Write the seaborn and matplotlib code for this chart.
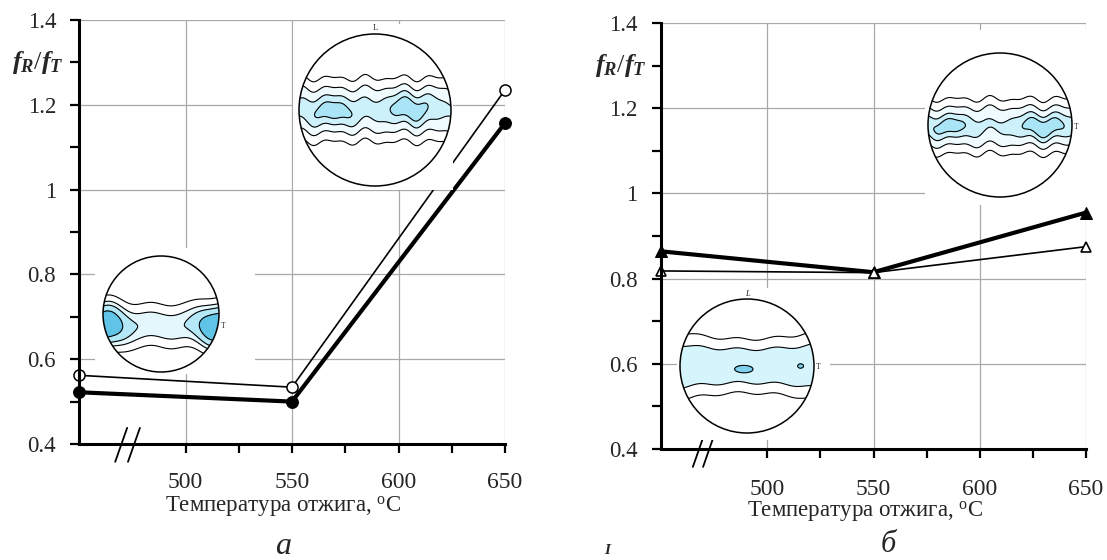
import numpy as np
import pandas as pd
import matplotlib
matplotlib.use("Agg")
import matplotlib.pyplot as plt
import seaborn as sns
from matplotlib.patches import Circle
from matplotlib.ticker import FixedLocator, FixedFormatter

# ---------------- data ----------------
temps = [450, 550, 650]
a_open = [0.562, 0.534, 1.235]     # panel а, thin line, open circles
a_filled = [0.522, 0.500, 1.157]   # panel а, thick line, filled circles
b_filled = [0.864, 0.815, 0.955]   # panel б, thick line, filled triangles
b_open = [0.818, 0.814, 0.875]     # panel б, thin line, open triangles

xticks_major = [500, 550, 600, 650]
xticks_minor = [525, 575, 625]
yticks_major = [0.4, 0.6, 0.8, 1.0, 1.2, 1.4]
ytick_labels = ["0.4", "0.6", "0.8", "1", "1.2", "1.4"]
yticks_minor = [0.5, 0.7, 0.9, 1.1, 1.3]
xlabel_text = "Температура отжига, $^{\\rm o}$C"
ylabel_text = "$f_R/f_T$"
panel_letters = ["а", "б"]

# ---------------- style ----------------
sns.set_style("white")
plt.rcParams['font.family'] = ['Liberation Serif', 'DejaVu Serif']
plt.rcParams['mathtext.fontset'] = 'custom'
plt.rcParams['mathtext.rm'] = 'Liberation Serif'
plt.rcParams['mathtext.it'] = 'Liberation Serif:italic:bold'
plt.rcParams['mathtext.bf'] = 'Liberation Serif:bold'

W, H = 1107, 560
fig = plt.figure(figsize=(W / 100, H / 100), dpi=100)
fig.patch.set_facecolor('white')


def px_axes(x0, y0, x1, y1):
    return fig.add_axes([x0 / W, 1 - y1 / H, (x1 - x0) / W, (y1 - y0) / H])


def style_axes(ax, xpad, ypad):
    ax.set_xlim(450, 650)
    ax.set_ylim(0.4, 1.4)
    ax.xaxis.set_major_locator(FixedLocator(xticks_major))
    ax.xaxis.set_minor_locator(FixedLocator(xticks_minor))
    ax.yaxis.set_major_locator(FixedLocator(yticks_major))
    ax.yaxis.set_major_formatter(FixedFormatter(ytick_labels))
    ax.yaxis.set_minor_locator(FixedLocator(yticks_minor))
    ax.grid(True, which='major', color='#a8a8a8', lw=0.9)
    ax.set_axisbelow(True)
    for s in ['top', 'right']:
        ax.spines[s].set_visible(False)
    for s in ['left', 'bottom']:
        ax.spines[s].set_linewidth(2.2)
        ax.spines[s].set_color('black')
        ax.spines[s].set_zorder(5)
    ax.tick_params(axis='both', which='both', direction='out', length=6.5,
                   width=1.6, color='black', left=True, bottom=True)
    ax.tick_params(axis='x', which='major', labelsize=17, pad=xpad)
    ax.tick_params(axis='y', which='major', labelsize=16.5, pad=ypad)
    ax.set_xlabel("")
    ax.set_ylabel("")


def break_marks(ax, xs):
    for x in xs:
        ax.plot([x, x + 0.028], [-0.042, 0.038], color='black', lw=1.3,
                transform=ax.transAxes, clip_on=False, zorder=6)


# ---------------- panel а ----------------
axA = px_axes(79, 20, 505, 444)
dfa = pd.DataFrame({"T": temps, "open": a_open, "filled": a_filled})
sns.lineplot(data=dfa, x="T", y="open", ax=axA, color='black', lw=1.2,
             marker='o', markersize=8, markerfacecolor='white',
             markeredgecolor='black', markeredgewidth=1.1, clip_on=False, zorder=4)
sns.lineplot(data=dfa, x="T", y="filled", ax=axA, color='black', lw=3.0,
             marker='o', markersize=8.5, markerfacecolor='black',
             markeredgecolor='black', clip_on=False, zorder=4)
style_axes(axA, xpad=14, ypad=10)
break_marks(axA, [0.085, 0.115])
axA.text(-0.037, 1.3, ylabel_text, transform=axA.get_yaxis_transform(),
         ha='right', va='center', fontsize=19)
axA.text((283 - 79) / 426, (444 - 507) / 424, xlabel_text, transform=axA.transAxes,
         ha='center', va='center', fontsize=16.5)
fig.text(283 / W, 1 - 547 / H, panel_letters[0], fontsize=23, style='italic',
         ha='center', va='center')

# ---------------- panel б ----------------
axB = px_axes(661, 23, 1086, 449)
dfb = pd.DataFrame({"T": temps, "open": b_open, "filled": b_filled})
sns.lineplot(data=dfb, x="T", y="filled", ax=axB, color='black', lw=3.0,
             marker='^', markersize=8, markerfacecolor='black',
             markeredgecolor='black', clip_on=False, zorder=4)
sns.lineplot(data=dfb, x="T", y="open", ax=axB, color='black', lw=1.2,
             marker='^', markersize=7, markerfacecolor='white',
             markeredgecolor='black', markeredgewidth=1.2, clip_on=False, zorder=4)
style_axes(axB, xpad=15, ypad=10.5)
break_marks(axB, [0.075, 0.099])
axB.text(-0.033, 1.3, ylabel_text, transform=axB.get_yaxis_transform(),
         ha='right', va='center', fontsize=19)
axB.text((865 - 661) / 425, (449 - 511) / 426, xlabel_text, transform=axB.transAxes,
         ha='center', va='center', fontsize=16.5)
fig.text(888 / W, 1 - 545 / H, panel_letters[1], fontsize=22, style='italic',
         ha='center', va='center')

# small bold glyph near the bottom edge
fig.text(607 / W, 1 - 550 / H, "I", fontsize=11, fontweight='bold', style='italic',
         ha='center', va='center')

# ---------------- pole-figure insets (illustrations) ----------------
uu, vv = np.meshgrid(np.linspace(-1.02, 1.02, 400), np.linspace(-1.02, 1.02, 400))


def pole_inset(box, center, r, field, fill_levels, fill_colors, line_levels,
               tpos=None, lpos=None):
    x0, y0, x1, y1 = box
    cx, cy = center
    ax = px_axes(x0, y0, x1, y1)
    ax.set_xlim((x0 - cx) / r, (x1 - cx) / r)
    ax.set_ylim((cy - y1) / r, (cy - y0) / r)
    ax.set_facecolor('white')
    ax.set_xticks([])
    ax.set_yticks([])
    for s in ax.spines.values():
        s.set_visible(False)
    F = field(uu, vv)
    clip = Circle((0, 0), 1.0, transform=ax.transData)
    cf = ax.contourf(uu, vv, F, levels=fill_levels, colors=fill_colors)
    cf.set_clip_path(clip)
    cl = ax.contour(uu, vv, F, levels=line_levels, colors='black', linewidths=0.8)
    cl.set_clip_path(clip)
    ax.add_patch(Circle((0, 0), 1.0, fill=False, ec='black', lw=1.1, zorder=5))
    if tpos is not None:
        ax.text(1.03, tpos, "T", fontsize=5.5, ha='left', va='center')
    if lpos is not None:
        ax.text(0, 1.02, "L", fontsize=6, ha='center', va='bottom', style=lpos)
    return ax


def field_a_small(u, v):
    vc = v + 0.2 + 0.03 * np.sin(9 * u)
    return np.exp(-(vc / 0.3) ** 2) * (0.55 + 1.4 * np.exp(-((np.abs(u) - 0.95) / 0.3) ** 2))


def field_a_big(u, v):
    vc = v + 0.03 * np.sin(14 * u) + 0.02 * np.cos(23 * u)
    base = 0.6 * np.exp(-(vc / 0.33) ** 2)
    left = 0.7 * np.exp(-((u + 0.55) / 0.33) ** 2 - ((vc + 0.02) / 0.16) ** 2)
    right = 0.8 * np.exp(-((u - 0.45) / 0.3) ** 2 - ((vc - 0.02) / 0.17) ** 2)
    return base + left + right


def field_b_top(u, v):
    vc = v + 0.02 + 0.03 * np.sin(13 * u) + 0.02 * np.cos(21 * u)
    base = 0.6 * np.exp(-(vc / 0.3) ** 2)
    left = 0.6 * np.exp(-((u + 0.7) / 0.3) ** 2 - (vc / 0.14) ** 2)
    right = 0.7 * np.exp(-((u - 0.6) / 0.35) ** 2 - (vc / 0.15) ** 2)
    return base + left + right


def field_b_bottom(u, v):
    vc = v + 0.02 * np.sin(11 * u)
    base = np.exp(-(vc / (0.3 + 0.08 * u ** 2)) ** 2) * 0.9
    blob1 = 1.2 * np.exp(-((u + 0.05) / 0.12) ** 2 - ((v + 0.05) / 0.05) ** 2)
    blob2 = 1.0 * np.exp(-((u - 0.8) / 0.04) ** 2 - ((v + 0.0) / 0.03) ** 2)
    return base + blob1 + blob2


pole_inset((293, 24, 453, 190), (375, 110), 76, field_a_big,
           [0.3, 0.6, 1.0, 10], ['#effbfe', '#cdf1fa', '#a9e5f6'],
           [0.12, 0.3, 0.6, 1.0], tpos=None, lpos='normal')
pole_inset((95, 248, 255, 374), (161, 314), 58, field_a_small,
           [0.35, 0.6, 1.1, 10], ['#e3f7fc', '#b5e8f6', '#5fc4e6'],
           [0.12, 0.35, 0.6, 1.1], tpos=-0.2)
pole_inset((925, 30, 1090, 205), (1000, 125), 72, field_b_top,
           [0.3, 0.6, 0.95, 10], ['#effbfe', '#cdf1fa', '#a9e5f6'],
           [0.12, 0.3, 0.6, 0.95], tpos=-0.03)
pole_inset((677, 288, 830, 440), (747, 366), 67, field_b_bottom,
           [0.45, 1.2, 10], ['#d6f4fb', '#7fd2ee'],
           [0.15, 0.45, 1.2], tpos=-0.02, lpos='italic')

fig.savefig("out.png", dpi=100, facecolor='white')
